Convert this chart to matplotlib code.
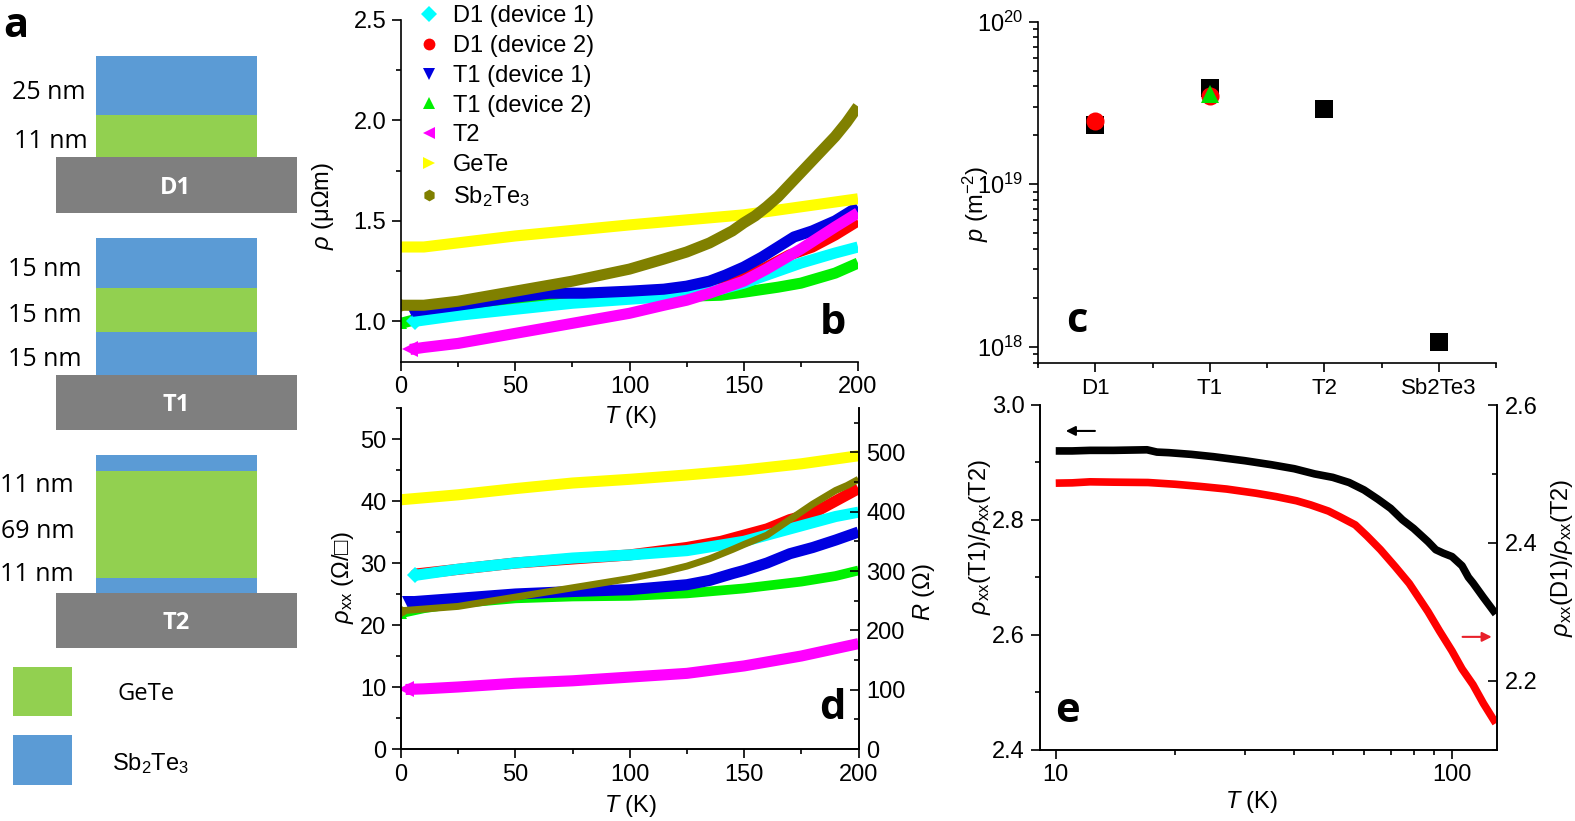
import matplotlib
matplotlib.use('Agg')
import matplotlib.pyplot as plt
from matplotlib.lines import Line2D
from matplotlib.patches import Rectangle
from matplotlib.ticker import MultipleLocator, FixedLocator, LogLocator, NullFormatter, FixedFormatter

plt.rcParams['font.family'] = ['Liberation Sans', 'DejaVu Sans']
plt.rcParams['mathtext.fontset'] = 'custom'
plt.rcParams['mathtext.rm'] = 'Liberation Sans'
plt.rcParams['mathtext.it'] = 'Liberation Sans:italic'
plt.rcParams['mathtext.bf'] = 'Liberation Sans:bold'
plt.rcParams['axes.linewidth'] = 1.2

W, H = 1575, 821
VIEW = 0.9955  # overlay coordinates were read from a slightly reduced view

# ---- panel b: resistivity (uOhm m) vs T
b_d1a_t = [6, 25, 50, 75, 100, 125, 140, 150, 160, 175, 190, 200]
b_d1a_v = [1.00, 1.03, 1.06, 1.09, 1.11, 1.13, 1.16, 1.19, 1.23, 1.29, 1.34, 1.37]
b_d1b_t = [6, 25, 50, 75, 100, 125, 140, 150, 160, 170, 180, 190, 200]
b_d1b_v = [1.01, 1.04, 1.07, 1.10, 1.12, 1.14, 1.18, 1.22, 1.27, 1.33, 1.37, 1.43, 1.50]
b_t1a_t = [5, 25, 50, 65, 80, 100, 115, 125, 135, 142, 150, 158, 165, 172, 180, 190, 200]
b_t1a_v = [1.05, 1.08, 1.12, 1.14, 1.14, 1.15, 1.16, 1.175, 1.20, 1.23, 1.27, 1.32, 1.37, 1.42, 1.45, 1.50, 1.57]
b_t1b_t = [0, 10, 25, 50, 75, 100, 125, 140, 150, 165, 175, 190, 200]
b_t1b_v = [0.99, 1.02, 1.05, 1.09, 1.11, 1.12, 1.125, 1.13, 1.145, 1.17, 1.19, 1.24, 1.29]
b_t2_t = [4, 10, 25, 50, 75, 100, 115, 125, 135, 150, 160, 175, 190, 200]
b_t2_v = [0.86, 0.87, 0.89, 0.94, 0.99, 1.04, 1.08, 1.105, 1.14, 1.20, 1.26, 1.36, 1.47, 1.54]
b_gete_t = [0, 10, 50, 100, 150, 175, 200]
b_gete_v = [1.37, 1.37, 1.425, 1.48, 1.53, 1.57, 1.61]
b_sb_t = [0, 10, 25, 50, 75, 100, 115, 125, 135, 145, 150, 155, 160, 165, 170, 175, 180, 185, 190, 195, 200]
b_sb_v = [1.08, 1.08, 1.10, 1.15, 1.20, 1.26, 1.31, 1.345, 1.39, 1.45, 1.49, 1.525, 1.57, 1.62, 1.68, 1.74, 1.80, 1.86, 1.92, 1.99, 2.07]

# ---- panel d: sheet resistance vs T
d_d1a_t = [6, 25, 50, 75, 100, 125, 140, 150, 165, 175, 190, 200]
d_d1a_v = [28.0, 29.0, 30.0, 30.8, 31.3, 32.0, 32.9, 33.5, 35.0, 36.0, 37.5, 38.2]
d_d1b_t = [6, 50, 100, 125, 140, 150, 160, 170, 180, 190, 200]
d_d1b_v = [28.2, 30.0, 31.3, 32.5, 33.5, 34.5, 35.5, 37.0, 38.0, 40.0, 42.0]
d_t1a_t = [3, 25, 50, 75, 100, 125, 135, 145, 150, 160, 170, 180, 190, 200]
d_t1a_v = [23.7, 24.3, 25.0, 25.4, 25.7, 26.5, 27.2, 28.3, 28.8, 30.0, 31.5, 32.5, 33.7, 35.0]
d_t1b_t = [0, 10, 25, 50, 75, 100, 125, 150, 175, 190, 200]
d_t1b_v = [21.9, 22.7, 23.5, 24.3, 24.6, 24.7, 25.1, 25.9, 27.0, 27.9, 28.8]
d_t2_t = [2, 10, 25, 50, 75, 100, 125, 150, 175, 200]
d_t2_v = [9.6, 9.7, 10.0, 10.6, 11.0, 11.6, 12.2, 13.4, 15.0, 17.0]
d_gete_t = [0, 25, 50, 75, 100, 125, 150, 175, 200]
d_gete_v = [40.2, 41.0, 42.0, 42.9, 43.5, 44.2, 45.0, 46.0, 47.3]
d_sb_t = [0, 25, 50, 75, 100, 115, 125, 135, 145, 150, 160, 170, 180, 190, 195, 200]
d_sb_v = [22.3, 23.0, 24.5, 26.0, 27.5, 28.6, 29.5, 30.7, 32.2, 33.0, 34.5, 37.0, 39.5, 41.7, 42.5, 43.5]

# ---- panel c: carrier density
c_categories = ['D1', 'T1', 'T2', 'Sb2Te3']
c_black = [2.3e19, 3.9e19, 2.9e19, 1.07e18]
c_red = [2.45e19, 3.5e19]
c_green_pos = [1]
c_green = [3.6e19]

# ---- panel e: resistivity ratios
e_t1_t = [10, 11, 12.2, 14, 17, 18, 19.3, 22, 25, 30, 35, 40, 45, 50, 55, 60, 65, 70, 75, 80, 87, 91, 95, 100, 106, 110, 113, 120, 129]
e_t1_v = [2.92, 2.92, 2.921, 2.921, 2.922, 2.918, 2.917, 2.914, 2.91, 2.903, 2.896, 2.889, 2.88, 2.874, 2.865, 2.852, 2.836, 2.82, 2.80, 2.785, 2.762, 2.748, 2.742, 2.736, 2.72, 2.70, 2.69, 2.665, 2.636]
e_d1_t = [10, 11, 12.2, 14, 17.1, 20, 23, 27, 32, 36, 40.5, 44, 48.8, 52, 57, 61, 66, 72, 78, 87, 93, 100, 106, 113, 120, 129]
e_d1_v = [2.4866, 2.487, 2.4885, 2.488, 2.4875, 2.485, 2.482, 2.478, 2.472, 2.467, 2.461, 2.455, 2.446, 2.438, 2.426, 2.41, 2.39, 2.365, 2.341, 2.30, 2.272, 2.243, 2.217, 2.194, 2.167, 2.138]

# ---- panel a: layer stacks
stack_names = ['D1', 'T1', 'T2']
stack_labels = [['25 nm', '11 nm'], ['15 nm', '15 nm', '15 nm'], ['11 nm', '69 nm', '11 nm']]

BLUE, GREEN, GREY = '#5B9BD5', '#92D050', '#7F7F7F'
S_CY, S_RD, S_BL, S_GR, S_MG, S_YL, S_OL = '#00FFFF', '#FF0000', '#0000E0', '#00F000', '#FF00FF', '#FFFF00', '#808000'
FS = 17


def axes_px(x0, ytop, x1, ybot, **kw):
    return fig.add_axes([x0 / W, 1 - ybot / H, (x1 - x0) / W, (ybot - ytop) / H], **kw)


def label_px(axis, ax_box, px, py):
    x0, ytop, x1, ybot = ax_box
    axis.set_label_coords((px / VIEW - x0) / (x1 - x0), (ybot - py / VIEW) / (ybot - ytop))


def style(ax, right=False):
    ax.spines['top'].set_visible(False)
    ax.spines['right'].set_visible(right)
    ax.tick_params(which='major', length=6.5, width=1.2, labelsize=FS, pad=4)
    ax.tick_params(which='minor', length=3.5, width=1.2)


fig = plt.figure(figsize=(W / 100, H / 100), dpi=100)

# overlay for the schematic and panel letters
ov = fig.add_axes([0, 0, 1, 1], zorder=5)
ov.set_xlim(0, W * VIEW)
ov.set_ylim(H * VIEW, 0)
ov.axis('off')
ov.patch.set_alpha(0)


def rect(x0, y0, x1, y1, c):
    ov.add_patch(Rectangle((x0, y0), x1 - x0, y1 - y0, facecolor=c, edgecolor='none'))


for y0, y1, c in [(56, 114, BLUE), (114, 156, GREEN),
                  (237, 287, BLUE), (287, 331, GREEN), (331, 373, BLUE),
                  (453, 469, BLUE), (469, 575, GREEN), (575, 590, BLUE)]:
    rect(96, y0, 256, y1, c)
for (y0, y1), name in zip([(156, 212), (373, 428), (590, 645)], stack_names):
    rect(56, y0, 296, y1, GREY)
    ov.text(175, (y0 + y1) / 2 + 3, name, color='white', fontweight='bold', fontsize=17,
            ha='center', va='center', family='Open Sans')
rect(13, 664, 72, 713, GREEN)
rect(13, 732, 72, 781, BLUE)
ov.text(145, 691, 'GeTe', fontsize=FS, ha='center', va='center', family='Open Sans')
ov.text(150, 760, 'Sb$_2$Te$_3$', fontsize=FS, ha='center', va='center')
for labels, xs, ys in zip(stack_labels,
                          [[49, 51], [45, 45, 45], [37, 38, 37]],
                          [[89, 138], [265, 311, 355], [480, 526, 569]]):
    for t, x, y in zip(labels, xs, ys):
        ov.text(x, y + 3, t, fontsize=18, ha='center', va='center', family='Open Sans')

for t, x, y in [('a', 16, 22), ('b', 829, 318), ('c', 1072, 316), ('d', 829, 701), ('e', 1063, 704)]:
    ov.text(x, y + 4, t, fontsize=30, fontweight='bold', ha='center', va='center', family='Open Sans')

ov.annotate('', xy=(1061, 429), xytext=(1090, 429),
            arrowprops=dict(arrowstyle='-|>', color='black', lw=1.5, mutation_scale=14, shrinkA=0, shrinkB=0))
ov.annotate('', xy=(1485, 634), xytext=(1456, 634),
            arrowprops=dict(arrowstyle='-|>', color='#E8202A', lw=1.5, mutation_scale=14, shrinkA=0, shrinkB=0))

# ---- panel b
box_b = (401, 20, 858, 361.5)
ax_b = axes_px(*box_b)
ax_b.patch.set_alpha(0)
series_b = [(b_d1b_t, b_d1b_v, S_RD, 'o', 'D1 (device 2)'),
            (b_t1b_t, b_t1b_v, S_GR, '^', 'T1 (device 2)'),
            (b_d1a_t, b_d1a_v, S_CY, 'D', 'D1 (device 1)'),
            (b_t1a_t, b_t1a_v, S_BL, 'v', 'T1 (device 1)'),
            (b_t2_t, b_t2_v, S_MG, '<', 'T2'),
            (b_gete_t, b_gete_v, S_YL, '>', 'GeTe'),
            (b_sb_t, b_sb_v, S_OL, 'h', 'Sb$_2$Te$_3$')]
for t, v, c, m, _ in series_b:
    ax_b.plot(t, v, color=c, lw=8, marker=m, ms=12 if m == '<' else 9, markevery=[0], mew=0,
              solid_capstyle='butt', solid_joinstyle='round')
ax_b.set_xlim(0, 200)
ax_b.set_ylim(0.8, 2.5)
ax_b.yaxis.set_major_locator(MultipleLocator(0.5))
ax_b.yaxis.set_minor_locator(MultipleLocator(0.25))
ax_b.xaxis.set_major_locator(MultipleLocator(50))
ax_b.xaxis.set_minor_locator(MultipleLocator(25))
style(ax_b)
ax_b.set_xlabel('$T$ (K)', fontsize=FS, va='center')
ax_b.set_ylabel(r'$\rho$ ($\mathrm{\mu\Omega}$m)', fontsize=FS, va='center')
label_px(ax_b.xaxis, box_b, 628, 415)
label_px(ax_b.yaxis, box_b, 322, 205)
order = [2, 0, 3, 1, 4, 5, 6]
handles = [Line2D([], [], ls='none', marker=series_b[i][3], color=series_b[i][2], ms=8.5, mew=0,
                  label=series_b[i][4]) for i in order]
ax_b.legend(handles=handles, loc='upper left', bbox_to_anchor=(0.033, 1.043), frameon=False,
            fontsize=FS, labelspacing=0.33, handletextpad=0.45, handlelength=1.1, borderpad=0, borderaxespad=0)

# ---- panel d
box_d = (401, 408, 858.5, 749)
ax_d = axes_px(*box_d)
ax_d.patch.set_alpha(0)
for t, v, c, m, lw in [(d_d1b_t, d_d1b_v, S_RD, 'o', 8),
                       (d_t1b_t, d_t1b_v, S_GR, '^', 7),
                       (d_d1a_t, d_d1a_v, S_CY, 'D', 8),
                       (d_t1a_t, d_t1a_v, S_BL, 'v', 8),
                       (d_t2_t, d_t2_v, S_MG, '<', 8),
                       (d_gete_t, d_gete_v, S_YL, '>', 8),
                       (d_sb_t, d_sb_v, S_OL, 'h', 5)]:
    ax_d.plot(t, v, color=c, lw=lw, marker=m, ms=12 if m == '<' else 8, markevery=[0], mew=0,
              solid_capstyle='butt', solid_joinstyle='round')
ax_d.set_xlim(0, 200)
ax_d.set_ylim(0, 55)
ax_d.yaxis.set_major_locator(MultipleLocator(10))
ax_d.yaxis.set_minor_locator(MultipleLocator(5))
ax_d.xaxis.set_major_locator(MultipleLocator(50))
ax_d.xaxis.set_minor_locator(MultipleLocator(25))
style(ax_d, right=True)
ax_d.set_xlabel('$T$ (K)', fontsize=FS, va='center')
ax_d.set_ylabel(r'$\rho_{\mathrm{xx}}$ (Ω/□)', fontsize=FS, va='center')
label_px(ax_d.xaxis, box_d, 628, 802)
label_px(ax_d.yaxis, box_d, 341, 575)
ax_r = ax_d.twinx()
ax_r.set_ylim(0, 575)
ax_r.yaxis.set_major_locator(MultipleLocator(100))
ax_r.yaxis.set_minor_locator(MultipleLocator(50))
ax_r.spines['top'].set_visible(False)
ax_r.tick_params(which='major', direction='in', length=6.5, width=1.2, labelsize=FS, pad=5.5)
ax_r.tick_params(which='minor', direction='in', length=3.5, width=1.2)
ax_r.set_ylabel(r'$R$ (Ω)', fontsize=FS, va='center')
label_px(ax_r.yaxis, box_d, 920, 590)

# ---- panel c
box_c = (1038, 21.7, 1496, 363.5)
ax_c = axes_px(*box_c)
ax_c.patch.set_alpha(0)
ax_c.plot(range(len(c_black)), c_black, ls='none', marker='s', color='black', ms=12.5, mew=0)
ax_c.plot(range(len(c_red)), c_red, ls='none', marker='o', color='#FF0000', ms=13, mew=0)
ax_c.plot(c_green_pos, c_green, ls='none', marker='^', color='#00E000', ms=13, mew=0)
ax_c.set_xlim(-0.5, 3.5)
ax_c.set_yscale('log')
ax_c.set_ylim(10 ** 17.897, 1e20)
ax_c.xaxis.set_major_locator(FixedLocator(list(range(len(c_categories)))))
ax_c.xaxis.set_major_formatter(FixedFormatter(c_categories))
ax_c.xaxis.set_minor_locator(FixedLocator([-0.5, 0.5, 1.5, 2.5, 3.5]))
ax_c.yaxis.set_major_locator(LogLocator(base=10, numticks=5))
ax_c.yaxis.set_minor_locator(LogLocator(base=10, subs=range(2, 10), numticks=5))
ax_c.yaxis.set_minor_formatter(NullFormatter())
style(ax_c)
ax_c.tick_params(axis='x', labelsize=16)
ax_c.set_ylabel('$p$ (m$^{-2}$)', fontsize=FS, va='center')
label_px(ax_c.yaxis, box_c, 972, 203)

# ---- panel e
box_e = (1039.7, 405, 1497, 749.5)
ax_e = axes_px(*box_e)
ax_e.patch.set_alpha(0)
ax_e.plot(e_t1_t, e_t1_v, color='black', lw=5.5, solid_capstyle='butt', solid_joinstyle='round')
ax_e.set_xscale('log')
ax_e.set_xlim(9.11, 129.9)
ax_e.set_ylim(2.4, 3.0)
ax_e.yaxis.set_major_locator(MultipleLocator(0.2))
ax_e.yaxis.set_minor_locator(MultipleLocator(0.1))
ax_e.xaxis.set_major_locator(FixedLocator([10, 100]))
ax_e.xaxis.set_major_formatter(FixedFormatter(['10', '100']))
ax_e.xaxis.set_minor_locator(LogLocator(base=10, subs=range(2, 10), numticks=5))
ax_e.xaxis.set_minor_formatter(NullFormatter())
style(ax_e, right=True)
ax_e.set_xlabel('$T$ (K)', fontsize=FS, va='center')
ax_e.set_ylabel(r'$\rho_{\mathrm{xx}}$(T1)/$\rho_{\mathrm{xx}}$(T2)', fontsize=FS, va='center')
label_px(ax_e.xaxis, box_e, 1246, 798)
label_px(ax_e.yaxis, box_e, 976, 535)
ax_e2 = ax_e.twinx()
ax_e2.plot(e_d1_t, e_d1_v, color='#FF0000', lw=5.5, solid_capstyle='butt', solid_joinstyle='round')
ax_e2.set_ylim(2.1, 2.6)
ax_e2.yaxis.set_major_locator(MultipleLocator(0.2))
ax_e2.yaxis.set_minor_locator(MultipleLocator(0.1))
ax_e2.spines['top'].set_visible(False)
ax_e2.tick_params(which='major', direction='in', length=6.5, width=1.2, labelsize=FS, pad=5.5)
ax_e2.tick_params(which='minor', direction='in', length=3.5, width=1.2)
ax_e2.set_ylabel(r'$\rho_{\mathrm{xx}}$(D1)/$\rho_{\mathrm{xx}}$(T2)', fontsize=FS, va='center')
label_px(ax_e2.yaxis, box_e, 1555, 555)

fig.savefig('out.png', dpi=100, facecolor='white')
